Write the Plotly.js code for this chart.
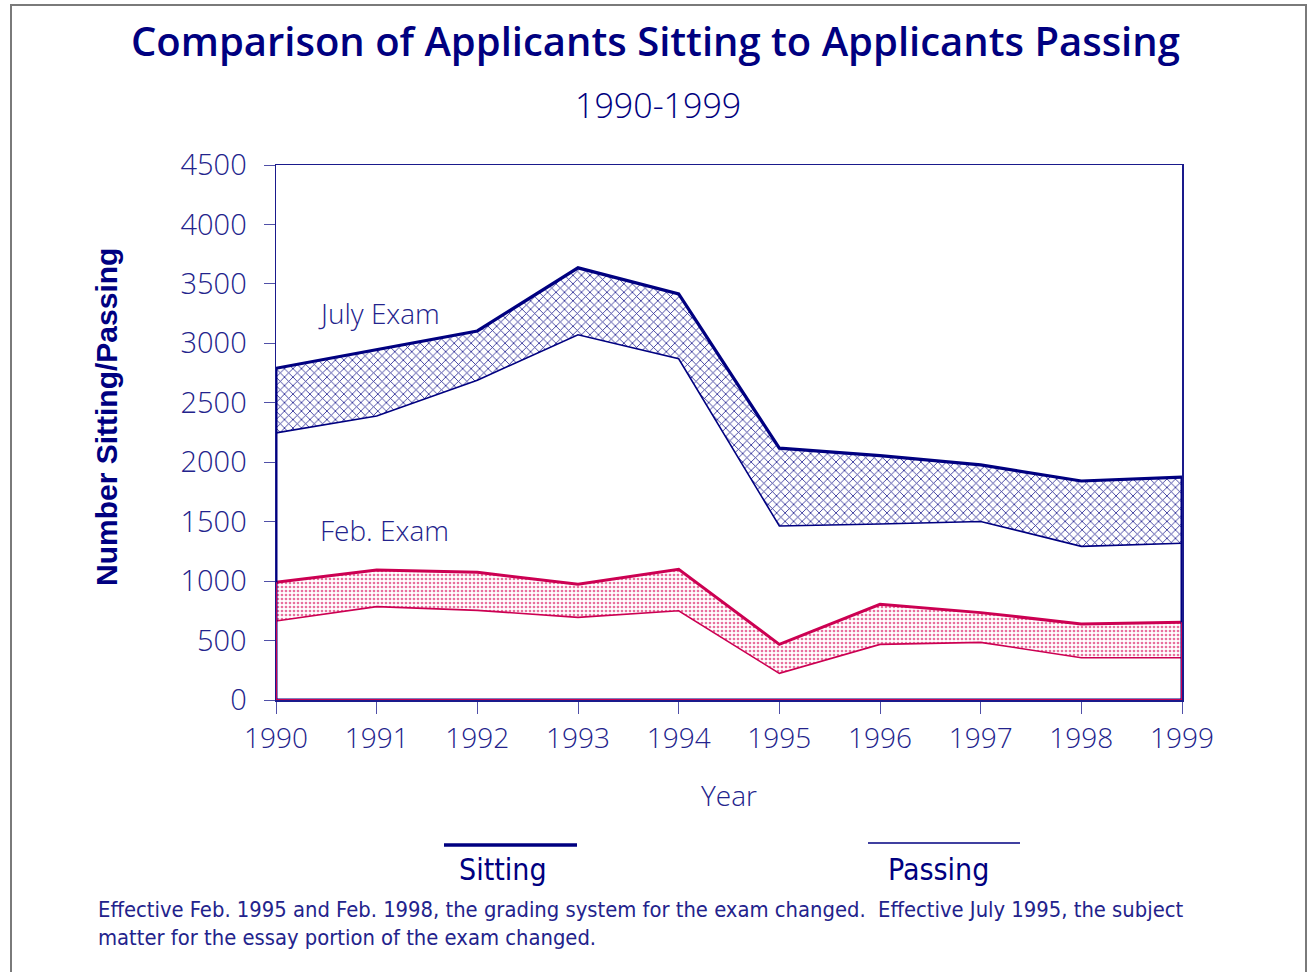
<!DOCTYPE html>
<html>
<head>
<meta charset="utf-8">
<script src="https://cdn.plot.ly/plotly-3.0.1.min.js"></script>
<style>html,body{margin:0;padding:0;background:#fff;}#chart{width:1308px;height:972px;}</style>
</head>
<body>
<div id="chart"></div>
<script>
// ---- data ----
const years = [1990, 1991, 1992, 1993, 1994, 1995, 1996, 1997, 1998, 1999];
const julySitting = [2790, 2945, 3104, 3635, 3415, 2118, 2055, 1977, 1842, 1875];
const julyPassing = [2247, 2389, 2690, 3072, 2870, 1464, 1480, 1502, 1292, 1318];
const febSitting  = [990, 1093, 1074, 973, 1099, 468, 805, 735, 639, 653];
const febPassing  = [664, 785, 754, 695, 751, 224, 468, 485, 356, 356];
const yTicks = [0, 500, 1000, 1500, 2000, 2500, 3000, 3500, 4000, 4500];

const NAVY = '#000080';
const RED = '#CC0052';
const TXT = '#23238c';

// plot-area pixel geometry -> paper coordinates helpers (layout only)
const L = 276, R = 1182, T = 165, B = 700;
const px = x => (x - L) / (R - L);
const py = y => (B - y) / (B - T);

function edges(sit) {
  const n = years.length - 1;
  return {x: [years[0], years[0], years[n], years[n]], y: [sit[0], 0, 0, sit[n]]};
}
const je = edges(julySitting), fe = edges(febSitting);

const traces = [
  {x: years, y: julyPassing, mode: 'lines', line: {color: NAVY, width: 1.6}, hoverinfo: 'skip'},
  {x: years, y: julySitting, mode: 'lines', fill: 'tonexty', fillcolor: 'rgba(0,0,0,0)',
   fillpattern: {shape: 'x', fgcolor: '#20208f', bgcolor: 'white', size: 6, solidity: 0.25},
   line: {color: NAVY, width: 3.2}, hoverinfo: 'skip'},
  {x: years, y: febPassing, mode: 'lines', line: {color: RED, width: 1.6}, hoverinfo: 'skip'},
  {x: years, y: febSitting, mode: 'lines', fill: 'tonexty', fillcolor: 'rgba(0,0,0,0)',
   fillpattern: {shape: '.', fgcolor: '#e8709e', bgcolor: 'white', size: 4, solidity: 0.35},
   line: {color: RED, width: 3}, hoverinfo: 'skip'},
  {x: je.x, y: je.y, mode: 'lines', line: {color: NAVY, width: 3}, hoverinfo: 'skip'},
  {x: fe.x, y: fe.y, mode: 'lines', line: {color: RED, width: 2}, hoverinfo: 'skip'}
];

const tickFont = {family: 'Open Sans, sans-serif', size: 29, color: TXT, weight: 300};
const narrow = 'DejaVu Sans Condensed, DejaVu Sans, sans-serif';

const layout = {
  width: 1308, height: 972,
  margin: {l: L, r: 1308 - R, t: T, b: 972 - B},
  paper_bgcolor: 'white', plot_bgcolor: 'white',
  showlegend: false,
  xaxis: {
    range: [1990, 1999], tickmode: 'array', tickvals: years, ticktext: years.map(String),
    ticks: 'outside', ticklen: 12, tickcolor: '#5050a8', tickwidth: 1,
    showline: true, linecolor: '#1a1a8c', linewidth: 1.5, mirror: true,
    showgrid: false, zeroline: false, tickfont: Object.assign({}, tickFont, {size: 28}),
    ticklabelstandoff: 1
  },
  yaxis: {
    range: [0, 4500], tickmode: 'array', tickvals: yTicks,
    ticks: 'outside', ticklen: 11, tickcolor: '#5050a8', tickwidth: 1,
    showline: true, linecolor: '#1a1a8c', linewidth: 1.5, mirror: true,
    showgrid: false, zeroline: false, tickfont: tickFont,
    ticklabelstandoff: 11
  },
  shapes: [
    {type: 'rect', xref: 'paper', yref: 'paper', x0: px(11), x1: px(1306), y0: py(5), y1: py(1000),
     line: {color: '#7a7a7a', width: 2}, fillcolor: 'rgba(0,0,0,0)', layer: 'below'},
    {type: 'line', xref: 'paper', yref: 'paper', x0: px(444), x1: px(577), y0: py(845), y1: py(845),
     line: {color: NAVY, width: 3.5}},
    {type: 'line', xref: 'paper', yref: 'paper', x0: px(868), x1: px(1020), y0: py(843), y1: py(843),
     line: {color: NAVY, width: 1.6}}
  ],
  annotations: [
    {text: 'Comparison of Applicants Sitting to Applicants Passing', xref: 'paper', yref: 'paper',
     x: px(655), y: py(40), xanchor: 'center', yanchor: 'middle', showarrow: false,
     font: {family: 'Open Sans, sans-serif', size: 40, color: NAVY, weight: 600}},
    {text: '1990-1999', xref: 'paper', yref: 'paper', x: px(658), y: py(105),
     xanchor: 'center', yanchor: 'middle', showarrow: false,
     font: {family: 'Open Sans, sans-serif', size: 34, color: NAVY, weight: 300}},
    {text: 'Number Sitting/Passing', xref: 'paper', yref: 'paper', x: px(106), y: py(417),
     xanchor: 'center', yanchor: 'middle', textangle: -90, showarrow: false,
     font: {family: 'Liberation Sans, Arial, sans-serif', size: 30, color: NAVY, weight: 'bold'}},
    {text: 'Year', xref: 'paper', yref: 'paper', x: px(729), y: py(795),
     xanchor: 'center', yanchor: 'middle', showarrow: false,
     font: {family: 'Open Sans, sans-serif', size: 28, color: TXT, weight: 300}},
    {text: 'July Exam', xref: 'paper', yref: 'paper', x: px(379), y: py(313),
     xanchor: 'center', yanchor: 'middle', showarrow: false,
     font: {family: 'Open Sans, sans-serif', size: 28, color: TXT, weight: 300}},
    {text: 'Feb. Exam', xref: 'paper', yref: 'paper', x: px(384), y: py(530),
     xanchor: 'center', yanchor: 'middle', showarrow: false,
     font: {family: 'Open Sans, sans-serif', size: 28, color: TXT, weight: 300}},
    {text: 'Sitting', xref: 'paper', yref: 'paper', x: px(503), y: py(869),
     xanchor: 'center', yanchor: 'middle', showarrow: false,
     font: {family: narrow, size: 30, color: NAVY}},
    {text: 'Passing', xref: 'paper', yref: 'paper', x: px(938), y: py(869),
     xanchor: 'center', yanchor: 'middle', showarrow: false,
     font: {family: narrow, size: 30, color: NAVY}},
    {text: 'Effective Feb. 1995 and Feb. 1998, the grading system for the exam changed.  Effective July 1995, the subject<br>matter for the essay portion of the exam changed.',
     xref: 'paper', yref: 'paper', x: px(96), y: py(895), xanchor: 'left', yanchor: 'top',
     align: 'left', showarrow: false,
     font: {family: narrow, size: 21.8, color: TXT}}
  ]
};

Plotly.newPlot('chart', traces, layout, {displayModeBar: false, staticPlot: true});
</script>
</body>
</html>
